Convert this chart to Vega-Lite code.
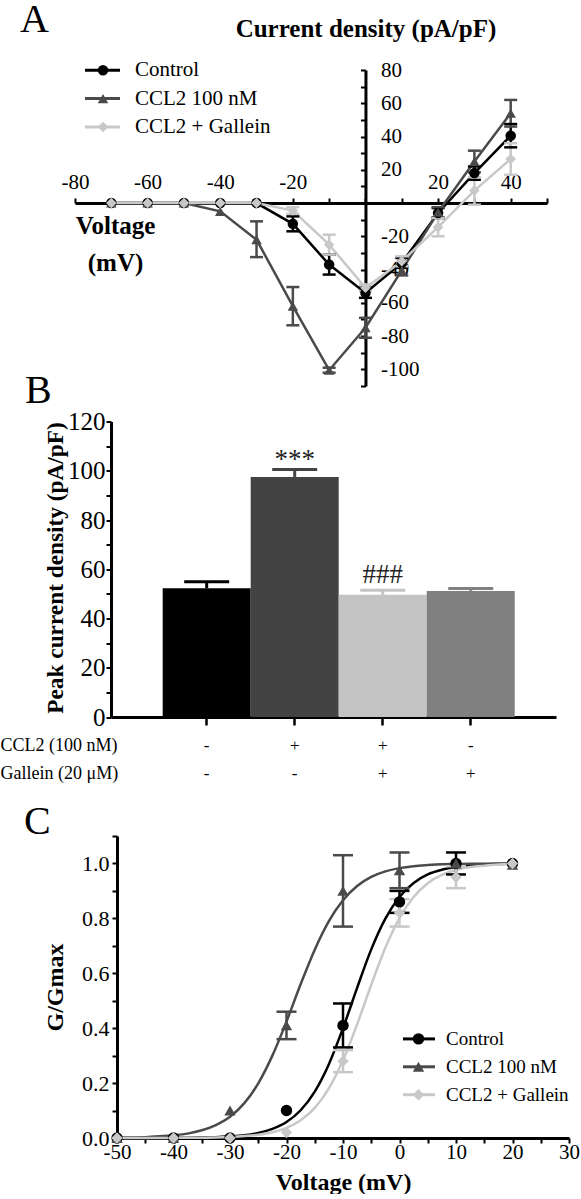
{
  "$schema": "https://vega.github.io/schema/vega-lite/v6.json",
  "background": "white",
  "padding": {"left": 0, "top": 0, "right": 0, "bottom": 0},
  "config": {
    "view": {"stroke": null},
    "font": "Liberation Serif",
    "locale": {"number": {"decimal": ".", "thousands": ",", "grouping": [3], "currency": ["$", ""], "minus": "-"}},
    "axis": {"labelFont": "Liberation Serif", "titleFont": "Liberation Serif", "labelColor": "black", "titleColor": "black", "domainColor": "black", "tickColor": "black", "grid": false, "labelFlush": false, "labelOverlap": false, "domainWidth": 3, "tickWidth": 2},
    "legend": {"labelFont": "Liberation Serif", "labelColor": "black"},
    "title": {"font": "Liberation Serif", "color": "black", "fontWeight": "normal"}
  },
  "datasets": {
    "iv": [
      {"g": "Control", "v": -70, "i": 0, "lo": 0, "hi": 0},
      {"g": "Control", "v": -60, "i": 0, "lo": 0, "hi": 0},
      {"g": "Control", "v": -50, "i": 0, "lo": 0, "hi": 0},
      {"g": "Control", "v": -40, "i": 0, "lo": 0, "hi": 0},
      {"g": "Control", "v": -30, "i": 0, "lo": 0, "hi": 0},
      {"g": "Control", "v": -20, "i": -12.5, "lo": -17, "hi": -8},
      {"g": "Control", "v": -10, "i": -37, "lo": -43, "hi": -31},
      {"g": "Control", "v": 0, "i": -54, "lo": -57, "hi": -51},
      {"g": "Control", "v": 10, "i": -36, "lo": -39, "hi": -33},
      {"g": "Control", "v": 20, "i": -6, "lo": -9, "hi": -3},
      {"g": "Control", "v": 30, "i": 18, "lo": 14, "hi": 22},
      {"g": "Control", "v": 40, "i": 40.5, "lo": 33.5, "hi": 47.5},
      {"g": "CCL2 100 nM", "v": -70, "i": 0, "lo": 0, "hi": 0},
      {"g": "CCL2 100 nM", "v": -60, "i": 0, "lo": 0, "hi": 0},
      {"g": "CCL2 100 nM", "v": -50, "i": 0, "lo": 0, "hi": 0},
      {"g": "CCL2 100 nM", "v": -40, "i": -5, "lo": -5, "hi": -5},
      {"g": "CCL2 100 nM", "v": -30, "i": -22, "lo": -32.5, "hi": -11},
      {"g": "CCL2 100 nM", "v": -20, "i": -62, "lo": -73.5, "hi": -50.5},
      {"g": "CCL2 100 nM", "v": -10, "i": -100.5, "lo": -102, "hi": -99},
      {"g": "CCL2 100 nM", "v": 0, "i": -75, "lo": -81, "hi": -69},
      {"g": "CCL2 100 nM", "v": 10, "i": -40.5, "lo": -43.5, "hi": -37.5},
      {"g": "CCL2 100 nM", "v": 20, "i": -5.5, "lo": -8.5, "hi": -2.5},
      {"g": "CCL2 100 nM", "v": 30, "i": 25, "lo": 18.5, "hi": 31.5},
      {"g": "CCL2 100 nM", "v": 40, "i": 54, "lo": 46, "hi": 62},
      {"g": "CCL2 + Gallein", "v": -70, "i": 0, "lo": 0, "hi": 0},
      {"g": "CCL2 + Gallein", "v": -60, "i": 0, "lo": 0, "hi": 0},
      {"g": "CCL2 + Gallein", "v": -50, "i": 0, "lo": 0, "hi": 0},
      {"g": "CCL2 + Gallein", "v": -40, "i": 0, "lo": 0, "hi": 0},
      {"g": "CCL2 + Gallein", "v": -30, "i": 0, "lo": 0, "hi": 0},
      {"g": "CCL2 + Gallein", "v": -20, "i": -4.5, "lo": -6.5, "hi": -2.5},
      {"g": "CCL2 + Gallein", "v": -10, "i": -25, "lo": -31, "hi": -19},
      {"g": "CCL2 + Gallein", "v": 0, "i": -51, "lo": -53, "hi": -49},
      {"g": "CCL2 + Gallein", "v": 10, "i": -35, "lo": -38, "hi": -32},
      {"g": "CCL2 + Gallein", "v": 20, "i": -14.5, "lo": -20, "hi": -9},
      {"g": "CCL2 + Gallein", "v": 30, "i": 7.5, "lo": -1, "hi": 15.5},
      {"g": "CCL2 + Gallein", "v": 40, "i": 26.5, "lo": 17, "hi": 36}
    ],
    "bars": [
      {"cond": "- -", "v": 52.3, "hi": 54.9, "ann": ""},
      {"cond": "+ -", "v": 97.5, "hi": 100.5, "ann": "***"},
      {"cond": "+ +", "v": 49.6, "hi": 51.5, "ann": "###"},
      {"cond": "- +", "v": 51.2, "hi": 52.2, "ann": ""}
    ],
    "gv": [
      {"g": "Control", "v": -50, "r": 0, "lo": 0, "hi": 0},
      {"g": "Control", "v": -40, "r": 0, "lo": 0, "hi": 0},
      {"g": "Control", "v": -30, "r": 0, "lo": 0, "hi": 0},
      {"g": "Control", "v": -20, "r": 0.1, "lo": 0.1, "hi": 0.1},
      {"g": "Control", "v": -10, "r": 0.41, "lo": 0.33, "hi": 0.49},
      {"g": "Control", "v": 0, "r": 0.86, "lo": 0.82, "hi": 0.9},
      {"g": "Control", "v": 10, "r": 1.0, "lo": 0.96, "hi": 1.04},
      {"g": "Control", "v": 20, "r": 1.0, "lo": 1.0, "hi": 1.0},
      {"g": "CCL2 100 nM", "v": -50, "r": 0, "lo": 0, "hi": 0},
      {"g": "CCL2 100 nM", "v": -40, "r": 0, "lo": 0, "hi": 0},
      {"g": "CCL2 100 nM", "v": -30, "r": 0.1, "lo": 0.1, "hi": 0.1},
      {"g": "CCL2 100 nM", "v": -20, "r": 0.41, "lo": 0.36, "hi": 0.46},
      {"g": "CCL2 100 nM", "v": -10, "r": 0.9, "lo": 0.77, "hi": 1.03},
      {"g": "CCL2 100 nM", "v": 0, "r": 0.975, "lo": 0.91, "hi": 1.04},
      {"g": "CCL2 100 nM", "v": 10, "r": 1.0, "lo": 1.0, "hi": 1.0},
      {"g": "CCL2 100 nM", "v": 20, "r": 0.995, "lo": 0.995, "hi": 0.995},
      {"g": "CCL2 + Gallein", "v": -50, "r": 0, "lo": 0, "hi": 0},
      {"g": "CCL2 + Gallein", "v": -40, "r": 0, "lo": 0, "hi": 0},
      {"g": "CCL2 + Gallein", "v": -30, "r": 0, "lo": 0, "hi": 0},
      {"g": "CCL2 + Gallein", "v": -20, "r": 0.02, "lo": 0.02, "hi": 0.02},
      {"g": "CCL2 + Gallein", "v": -10, "r": 0.28, "lo": 0.24, "hi": 0.32},
      {"g": "CCL2 + Gallein", "v": 0, "r": 0.82, "lo": 0.77, "hi": 0.87},
      {"g": "CCL2 + Gallein", "v": 10, "r": 0.95, "lo": 0.91, "hi": 0.99},
      {"g": "CCL2 + Gallein", "v": 20, "r": 1.0, "lo": 1.0, "hi": 1.0}
    ],
    "fit": [
      {"g": "Control", "v": -50, "r": 0.0},
      {"g": "Control", "v": -45, "r": 0.0002},
      {"g": "Control", "v": -40, "r": 0.0005},
      {"g": "Control", "v": -37.5, "r": 0.001},
      {"g": "Control", "v": -35, "r": 0.0017},
      {"g": "Control", "v": -32.5, "r": 0.003},
      {"g": "Control", "v": -30, "r": 0.006},
      {"g": "Control", "v": -27.5, "r": 0.010},
      {"g": "Control", "v": -25, "r": 0.018},
      {"g": "Control", "v": -22.5, "r": 0.033},
      {"g": "Control", "v": -20, "r": 0.058},
      {"g": "Control", "v": -17.5, "r": 0.101},
      {"g": "Control", "v": -15, "r": 0.169},
      {"g": "Control", "v": -12.5, "r": 0.269},
      {"g": "Control", "v": -10, "r": 0.400},
      {"g": "Control", "v": -7.5, "r": 0.547},
      {"g": "Control", "v": -5, "r": 0.687},
      {"g": "Control", "v": -2.5, "r": 0.799},
      {"g": "Control", "v": 0, "r": 0.878},
      {"g": "Control", "v": 2.5, "r": 0.929},
      {"g": "Control", "v": 5, "r": 0.960},
      {"g": "Control", "v": 7.5, "r": 0.977},
      {"g": "Control", "v": 10, "r": 0.987},
      {"g": "Control", "v": 12.5, "r": 0.993},
      {"g": "Control", "v": 15, "r": 0.996},
      {"g": "Control", "v": 17.5, "r": 0.998},
      {"g": "Control", "v": 20, "r": 0.999},
      {"g": "CCL2 100 nM", "v": -50, "r": 0.001},
      {"g": "CCL2 100 nM", "v": -47.5, "r": 0.002},
      {"g": "CCL2 100 nM", "v": -45, "r": 0.003},
      {"g": "CCL2 100 nM", "v": -42.5, "r": 0.006},
      {"g": "CCL2 100 nM", "v": -40, "r": 0.010},
      {"g": "CCL2 100 nM", "v": -37.5, "r": 0.016},
      {"g": "CCL2 100 nM", "v": -35, "r": 0.028},
      {"g": "CCL2 100 nM", "v": -32.5, "r": 0.047},
      {"g": "CCL2 100 nM", "v": -30, "r": 0.077},
      {"g": "CCL2 100 nM", "v": -27.5, "r": 0.126},
      {"g": "CCL2 100 nM", "v": -25, "r": 0.199},
      {"g": "CCL2 100 nM", "v": -22.5, "r": 0.300},
      {"g": "CCL2 100 nM", "v": -20, "r": 0.424},
      {"g": "CCL2 100 nM", "v": -17.5, "r": 0.560},
      {"g": "CCL2 100 nM", "v": -15, "r": 0.686},
      {"g": "CCL2 100 nM", "v": -12.5, "r": 0.790},
      {"g": "CCL2 100 nM", "v": -10, "r": 0.866},
      {"g": "CCL2 100 nM", "v": -7.5, "r": 0.918},
      {"g": "CCL2 100 nM", "v": -5, "r": 0.951},
      {"g": "CCL2 100 nM", "v": -2.5, "r": 0.971},
      {"g": "CCL2 100 nM", "v": 0, "r": 0.983},
      {"g": "CCL2 100 nM", "v": 2.5, "r": 0.990},
      {"g": "CCL2 100 nM", "v": 5, "r": 0.994},
      {"g": "CCL2 100 nM", "v": 7.5, "r": 0.997},
      {"g": "CCL2 100 nM", "v": 10, "r": 0.998},
      {"g": "CCL2 100 nM", "v": 15, "r": 0.999},
      {"g": "CCL2 100 nM", "v": 20, "r": 1.0},
      {"g": "CCL2 + Gallein", "v": -50, "r": 0.0},
      {"g": "CCL2 + Gallein", "v": -45, "r": 0.0001},
      {"g": "CCL2 + Gallein", "v": -40, "r": 0.0004},
      {"g": "CCL2 + Gallein", "v": -37.5, "r": 0.0007},
      {"g": "CCL2 + Gallein", "v": -35, "r": 0.0012},
      {"g": "CCL2 + Gallein", "v": -32.5, "r": 0.0021},
      {"g": "CCL2 + Gallein", "v": -30, "r": 0.004},
      {"g": "CCL2 + Gallein", "v": -27.5, "r": 0.007},
      {"g": "CCL2 + Gallein", "v": -25, "r": 0.012},
      {"g": "CCL2 + Gallein", "v": -22.5, "r": 0.021},
      {"g": "CCL2 + Gallein", "v": -20, "r": 0.037},
      {"g": "CCL2 + Gallein", "v": -17.5, "r": 0.065},
      {"g": "CCL2 + Gallein", "v": -15, "r": 0.110},
      {"g": "CCL2 + Gallein", "v": -12.5, "r": 0.181},
      {"g": "CCL2 + Gallein", "v": -10, "r": 0.283},
      {"g": "CCL2 + Gallein", "v": -7.5, "r": 0.414},
      {"g": "CCL2 + Gallein", "v": -5, "r": 0.558},
      {"g": "CCL2 + Gallein", "v": -2.5, "r": 0.693},
      {"g": "CCL2 + Gallein", "v": 0, "r": 0.801},
      {"g": "CCL2 + Gallein", "v": 2.5, "r": 0.878},
      {"g": "CCL2 + Gallein", "v": 5, "r": 0.928},
      {"g": "CCL2 + Gallein", "v": 7.5, "r": 0.958},
      {"g": "CCL2 + Gallein", "v": 10, "r": 0.976},
      {"g": "CCL2 + Gallein", "v": 12.5, "r": 0.987},
      {"g": "CCL2 + Gallein", "v": 15, "r": 0.992},
      {"g": "CCL2 + Gallein", "v": 17.5, "r": 0.996},
      {"g": "CCL2 + Gallein", "v": 20, "r": 0.998}
    ]
  },
  "spacing": -25.5,
  "resolve": {"scale": {"color": "independent", "stroke": "independent", "shape": "independent"}, "legend": {"color": "independent", "stroke": "independent", "shape": "independent"}},
  "vconcat": [
    {
      "width": 248.46,
      "height": 316,
      "title": {"text": "A", "anchor": "start", "frame": "group", "fontSize": 40, "dx": -97, "offset": -56, "baseline": "alphabetic"},
      "data": {"name": "iv"},
      "layer": [
        {
          "mark": {"type": "line", "strokeWidth": 2.5},
          "encoding": {
            "x": {"field": "v", "type": "quantitative", "scale": {"domain": [-80, 50], "range": [-42, 430], "nice": false, "zero": false},
              "axis": {"orient": "top", "offset": -133, "values": [-80, -70, -60, -50, -40, -30, -20, -10, 0, 10, 20, 30, 40, 50], "tickCount": 100, "labelExpr": "(datum.value % 20 == 0 && datum.value != 0) ? '' + datum.value : ''", "labelOverlap": false, "tickSize": 5, "labelFontSize": 21, "labelBaseline": "alphabetic", "labelPadding": 10, "title": ["Voltage", "(mV)"], "titleFontSize": 25, "titleFontWeight": "bold", "titleX": -2, "titleY": 30, "titleAlign": "center", "titleBaseline": "alphabetic", "titleLineHeight": 37}},
            "y": {"field": "i", "type": "quantitative", "scale": {"domain": [-110, 80], "nice": false, "zero": false},
              "axis": {"orient": "right", "values": [-110, -100, -90, -80, -70, -60, -50, -40, -30, -20, -10, 0, 10, 20, 30, 40, 50, 60, 70, 80], "tickCount": 100, "labelExpr": "(datum.value % 20 == 0 && datum.value != 0) ? '' + datum.value : ''", "labelOverlap": false, "tickSize": -5, "labelPadding": 20, "labelAlign": "left", "labelFontSize": 21, "title": "Current density (pA/pF)", "titleAngle": 0, "titleX": 0, "titleY": -34, "titleAlign": "center", "titleBaseline": "alphabetic", "titleFontSize": 25, "titleFontWeight": "bold"}},
            "stroke": {"field": "g", "type": "nominal", "sort": ["Control", "CCL2 100 nM", "CCL2 + Gallein"], "scale": {"range": ["#000000", "#4a4a4a", "#c8c8c8"]},
              "legend": {"orient": "none", "legendX": -25, "legendY": -10.2, "title": null, "symbolType": "M-3.5,0H3.5", "symbolSize": 100, "symbolStrokeWidth": 3, "labelOpacity": 0, "labelFontSize": 21, "rowPadding": 6.3, "labelOffset": 21.5}}
          }
        },
        {
          "transform": [{"filter": "datum.hi > datum.lo"}],
          "mark": {"type": "rule", "strokeWidth": 2.5},
          "encoding": {
            "x": {"field": "v", "type": "quantitative"},
            "y": {"field": "lo", "type": "quantitative"},
            "y2": {"field": "hi"},
            "stroke": {"field": "g", "type": "nominal", "sort": ["Control", "CCL2 100 nM", "CCL2 + Gallein"]}
          }
        },
        {
          "transform": [{"filter": "datum.hi > datum.lo"}, {"fold": ["lo", "hi"], "as": ["end", "yv"]}],
          "mark": {"type": "point", "shape": "stroke", "size": 169, "strokeWidth": 2.5, "filled": false, "opacity": 1},
          "encoding": {
            "x": {"field": "v", "type": "quantitative"},
            "y": {"field": "yv", "type": "quantitative"},
            "stroke": {"field": "g", "type": "nominal", "sort": ["Control", "CCL2 100 nM", "CCL2 + Gallein"]}
          }
        },
        {
          "mark": {"type": "point", "filled": true, "size": 110, "opacity": 1},
          "encoding": {
            "x": {"field": "v", "type": "quantitative"},
            "y": {"field": "i", "type": "quantitative"},
            "color": {"field": "g", "type": "nominal", "scale": {"domain": ["Control", "CCL2 100 nM", "CCL2 + Gallein"], "range": ["#000000", "#4a4a4a", "#c8c8c8"]},
              "legend": {"orient": "none", "legendX": -24.5, "legendY": -10.2, "title": null, "labelFontSize": 21, "symbolSize": 110, "rowPadding": 6.3, "labelOffset": 21.5, "symbolStrokeWidth": 0}},
            "shape": {"field": "g", "type": "nominal", "scale": {"domain": ["Control", "CCL2 100 nM", "CCL2 + Gallein"], "range": ["circle", "triangle-up", "diamond"]},
              "legend": {"orient": "none", "legendX": -24.5, "legendY": -10.2, "title": null, "labelFontSize": 21, "symbolSize": 110, "rowPadding": 6.3, "labelOffset": 21.5, "symbolStrokeWidth": 0}}
          }
        }
      ]
    },
    {
      "spacing": 18.5,
      "resolve": {"scale": {"color": "independent", "stroke": "independent", "shape": "independent"}, "legend": {"color": "independent", "stroke": "independent", "shape": "independent"}},
      "vconcat": [
        {
          "width": 439,
          "height": 295.5,
          "title": {"text": "B", "anchor": "start", "frame": "group", "fontSize": 40, "dx": -92, "offset": -33, "baseline": "alphabetic"},
          "data": {"name": "bars"},
          "encoding": {
            "x": {"field": "cond", "type": "nominal", "sort": null, "scale": {"paddingInner": 0, "paddingOuter": 0.528, "align": 0.556, "range": [-6, 439]},
              "axis": {"orient": "bottom", "domainWidth": 3, "tickSize": 8, "tickWidth": 2.5, "labelAngle": 0, "labelOverlap": false, "labelExpr": "split(datum.label, ' ')", "labelFontSize": 17, "labelLineHeight": 28.3, "labelBaseline": "alphabetic", "labelPadding": 25, "title": ["CCL2 (100 nM)", "Gallein  (20 μM)"], "titleX": -117, "titleY": 33.2, "titleAlign": "left", "titleBaseline": "alphabetic", "titleFontSize": 18, "titleFontWeight": "normal", "titleLineHeight": 28.3}}
          },
          "layer": [
            {
              "mark": {"type": "bar"},
              "encoding": {
                "y": {"field": "v", "type": "quantitative", "scale": {"domain": [0, 120], "nice": false},
                  "axis": {"offset": 6, "values": [0, 10, 20, 30, 40, 50, 60, 70, 80, 90, 100, 110, 120], "tickCount": 100, "labelExpr": "datum.value % 20 == 0 ? datum.label : ''", "labelOverlap": false, "tickSize": 5, "labelFontSize": 25, "labelPadding": 1, "title": "Peak current density (pA/pF)", "titleFontSize": 23.3, "titleFontWeight": "bold", "titleX": -49, "titleY": 146, "titleAngle": 270, "titleBaseline": "alphabetic", "titleAlign": "center"}},
                "color": {"field": "cond", "type": "nominal", "sort": null, "scale": {"range": ["#000000", "#434343", "#c4c4c4", "#808080"]}, "legend": null}
              }
            },
            {
              "mark": {"type": "rule", "strokeWidth": 3},
              "encoding": {
                "y": {"field": "v", "type": "quantitative"},
                "y2": {"field": "hi"},
                "color": {"field": "cond", "type": "nominal", "sort": null, "legend": null}
              }
            },
            {
              "mark": {"type": "point", "shape": "stroke", "size": 2025, "strokeWidth": 3, "filled": false, "opacity": 1},
              "encoding": {
                "y": {"field": "hi", "type": "quantitative"},
                "color": {"field": "cond", "type": "nominal", "sort": null, "legend": null}
              }
            },
            {
              "transform": [{"filter": "datum.ann == '***'"}],
              "mark": {"type": "text", "baseline": "alphabetic", "dy": -2, "fontSize": 27, "color": "#222222"},
              "encoding": {
                "y": {"field": "hi", "type": "quantitative"},
                "text": {"field": "ann"}
              }
            },
            {
              "transform": [{"filter": "datum.ann == '###'"}],
              "mark": {"type": "text", "baseline": "alphabetic", "dy": -7, "fontSize": 27, "color": "#222222"},
              "encoding": {
                "y": {"field": "hi", "type": "quantitative"},
                "text": {"field": "ann"}
              }
            }
          ]
        },
        {
          "width": 452,
          "height": 302,
          "title": {"text": "C", "anchor": "start", "frame": "group", "fontSize": 40, "dx": -93, "offset": -48.5, "baseline": "alphabetic"},
          "layer": [
            {
              "data": {"name": "fit"},
              "mark": {"type": "line", "strokeWidth": 2.5, "interpolate": "monotone"},
              "encoding": {
                "x": {"field": "v", "type": "quantitative", "scale": {"domain": [-50, 30], "nice": false, "zero": false},
                  "axis": {"values": [-50, -45, -40, -35, -30, -25, -20, -15, -10, -5, 0, 5, 10, 15, 20, 25, 30], "tickCount": 100, "labelExpr": "datum.value % 10 == 0 ? '' + datum.value : ''", "labelOverlap": false, "tickSize": 5, "labelFontSize": 21, "labelBaseline": "alphabetic", "labelPadding": 15.8, "title": "Voltage (mV)", "titleFontSize": 24, "titleFontWeight": "bold", "titleBaseline": "alphabetic", "titleY": 51}},
                "y": {"field": "r", "type": "quantitative", "scale": {"domain": [0, 1.1], "nice": false},
                  "axis": {"values": [0, 0.1, 0.2, 0.3, 0.4, 0.5, 0.6, 0.7, 0.8, 0.9, 1.0, 1.1], "tickCount": 100, "labelExpr": "round(datum.value * 10) % 2 == 0 ? format(datum.value, '.1f') : ''", "labelOverlap": false, "tickSize": 5, "labelFontSize": 22, "labelPadding": 3, "title": "G/Gmax", "titleFontSize": 24, "titleFontWeight": "bold", "titleX": -55, "titleY": 151, "titleAngle": 270, "titleBaseline": "alphabetic", "titleAlign": "center"}},
                "stroke": {"field": "g", "type": "nominal", "sort": ["Control", "CCL2 100 nM", "CCL2 + Gallein"], "scale": {"range": ["#000000", "#4a4a4a", "#c8c8c8"]},
                  "legend": {"orient": "none", "legendX": 292.5, "legendY": 193.4, "title": null, "symbolType": "M-3.2,0H3.2", "symbolSize": 100, "symbolStrokeWidth": 3, "labelOpacity": 0, "labelFontSize": 19, "rowPadding": 7.9, "labelOffset": 18}}
              }
            },
            {
              "data": {"name": "gv"},
              "transform": [{"filter": "datum.hi > datum.lo"}],
              "mark": {"type": "rule", "strokeWidth": 2.5},
              "encoding": {
                "x": {"field": "v", "type": "quantitative"},
                "y": {"field": "lo", "type": "quantitative"},
                "y2": {"field": "hi"},
                "stroke": {"field": "g", "type": "nominal", "sort": ["Control", "CCL2 100 nM", "CCL2 + Gallein"]}
              }
            },
            {
              "data": {"name": "gv"},
              "transform": [{"filter": "datum.hi > datum.lo"}, {"fold": ["lo", "hi"], "as": ["end", "yv"]}],
              "mark": {"type": "point", "shape": "stroke", "size": 400, "strokeWidth": 2.5, "filled": false, "opacity": 1},
              "encoding": {
                "x": {"field": "v", "type": "quantitative"},
                "y": {"field": "yv", "type": "quantitative"},
                "stroke": {"field": "g", "type": "nominal", "sort": ["Control", "CCL2 100 nM", "CCL2 + Gallein"]}
              }
            },
            {
              "data": {"name": "gv"},
              "mark": {"type": "point", "filled": true, "size": 130, "opacity": 1},
              "encoding": {
                "x": {"field": "v", "type": "quantitative"},
                "y": {"field": "r", "type": "quantitative"},
                "color": {"field": "g", "type": "nominal", "scale": {"domain": ["Control", "CCL2 100 nM", "CCL2 + Gallein"], "range": ["#000000", "#4a4a4a", "#c8c8c8"]},
                  "legend": {"orient": "none", "legendX": 292, "legendY": 193.4, "title": null, "labelFontSize": 19, "symbolSize": 130, "rowPadding": 7.9, "labelOffset": 18, "symbolStrokeWidth": 0}},
                "shape": {"field": "g", "type": "nominal", "scale": {"domain": ["Control", "CCL2 100 nM", "CCL2 + Gallein"], "range": ["circle", "triangle-up", "diamond"]},
                  "legend": {"orient": "none", "legendX": 292, "legendY": 193.4, "title": null, "labelFontSize": 19, "symbolSize": 130, "rowPadding": 7.9, "labelOffset": 18, "symbolStrokeWidth": 0}}
              }
            }
          ]
        }
      ]
    }
  ]
}
